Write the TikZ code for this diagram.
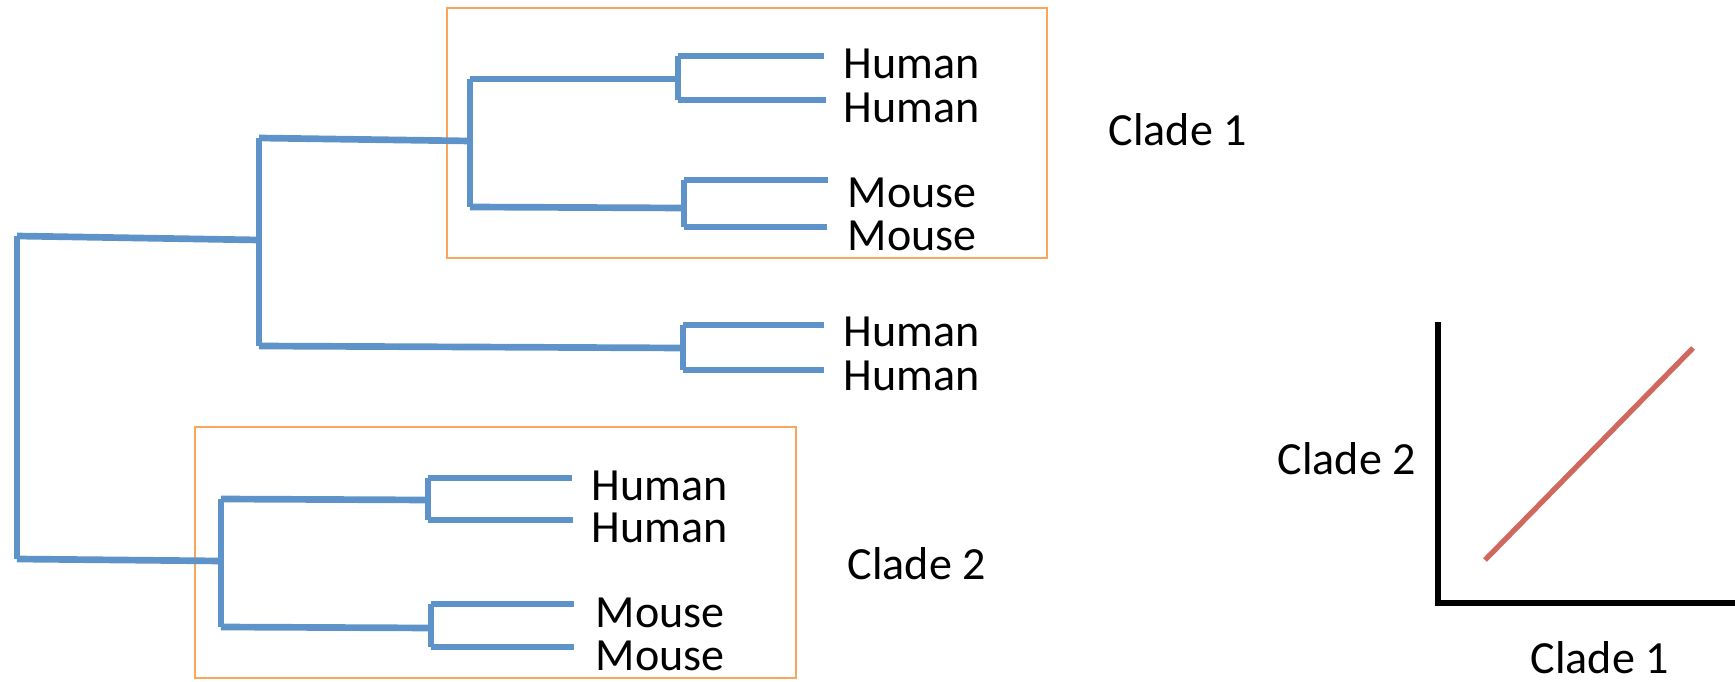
\documentclass[tikz,border=0pt]{standalone}
\usepackage{fontspec}
\setmainfont{Carlito}
\definecolor{treeblue}{RGB}{93,147,201}
\definecolor{boxorange}{RGB}{249,166,90}
\definecolor{fitred}{RGB}{208,104,94}
\begin{document}
\begin{tikzpicture}[x=0.01cm,y=-0.01cm,
  branch/.style={draw=treeblue,line width=1.9pt},
  cladebox/.style={draw=boxorange,line width=0.7pt},
  axis/.style={draw=black,line width=1.9pt},
  fitline/.style={draw=fitred,line width=1.5pt},
  lbl/.style={inner sep=0pt,anchor=base west,font=\fontsize{13.1}{15}\selectfont}]
\useasboundingbox (0,0) rectangle (1735,682);
% clade boxes
\draw[cladebox] (447,8) rectangle (1047,258);
\draw[cladebox] (195,427) rectangle (796,678);
% tree vertices
\coordinate (r1) at (17,236); \coordinate (r2) at (17,559);
\coordinate (a) at (259,240); \coordinate (a1) at (259,138); \coordinate (a2) at (259,346);
\coordinate (b) at (470,141); \coordinate (b1) at (470,79); \coordinate (b2) at (470,207);
\coordinate (c) at (678,79); \coordinate (c1) at (678,56); \coordinate (c2) at (678,100);
\coordinate (d) at (684,208); \coordinate (d1) at (684,180); \coordinate (d2) at (684,227);
\coordinate (e) at (683,348); \coordinate (e1) at (683,325); \coordinate (e2) at (683,370);
\coordinate (f) at (221,561); \coordinate (f1) at (221,499); \coordinate (f2) at (221,627);
\coordinate (g) at (428,500); \coordinate (g1) at (428,478); \coordinate (g2) at (428,520);
\coordinate (h) at (431,628); \coordinate (h1) at (431,604); \coordinate (h2) at (431,647);
% leaf ends
\coordinate (c1e) at (824,56); \coordinate (c2e) at (826,100);
\coordinate (d1e) at (828,180); \coordinate (d2e) at (827,227);
\coordinate (e1e) at (824,325); \coordinate (e2e) at (824,370);
\coordinate (g1e) at (572,478); \coordinate (g2e) at (573,520);
\coordinate (h1e) at (574,604); \coordinate (h2e) at (574,647);
% verticals
\draw[branch] (r1) -- (r2);
\draw[branch] (a1) -- (a2);
\draw[branch] (b1) -- (b2);
\draw[branch] (c1) -- (c2);
\draw[branch] (d1) -- (d2);
\draw[branch] (e1) -- (e2);
\draw[branch] (f1) -- (f2);
\draw[branch] (g1) -- (g2);
\draw[branch] (h1) -- (h2);
% internal horizontals
\draw[branch] (r1) -- (a);
\draw[branch] (r2) -- (f);
\draw[branch] (a1) -- (b);
\draw[branch] (a2) -- (e);
\draw[branch] (b1) -- (c);
\draw[branch] (b2) -- (d);
\draw[branch] (f1) -- (g);
\draw[branch] (f2) -- (h);
% leaves
\draw[branch] (c1) -- (c1e);
\draw[branch] (c2) -- (c2e);
\draw[branch] (d1) -- (d1e);
\draw[branch] (d2) -- (d2e);
\draw[branch] (e1) -- (e1e);
\draw[branch] (e2) -- (e2e);
\draw[branch] (g1) -- (g1e);
\draw[branch] (g2) -- (g2e);
\draw[branch] (h1) -- (h1e);
\draw[branch] (h2) -- (h2e);
% labels
\node[lbl] (t1) at (843,79) {Human};
\node[lbl] (t2) at (843,123) {Human};
\node[lbl] (t3) at (847,208) {Mouse};
\node[lbl] (t4) at (847,251) {Mouse};
\node[lbl] (t5) at (843,347) {Human};
\node[lbl] (t6) at (843,391) {Human};
\node[lbl] (t7) at (591,501) {Human};
\node[lbl] (t8) at (591,543) {Human};
\node[lbl] (t9) at (595,627) {Mouse};
\node[lbl] (t10) at (595,670) {Mouse};
\node[lbl] (cl1) at (1108,146) {Clade 1};
\node[lbl] (cl2) at (847,580) {Clade 2};
% plot
\coordinate (ytop) at (1438,322);
\coordinate (orig) at (1438,603);
\coordinate (xend) at (1735,603);
\draw[axis] (ytop) -- (orig) -- (xend);
\coordinate (fs) at (1485,560);
\coordinate (fe) at (1693,348);
\draw[fitline] (fs) -- (fe);
\node[lbl] (ylab) at (1277,475) {Clade 2};
\node[lbl] (xlab) at (1530,673) {Clade 1};
\end{tikzpicture}
\end{document}
